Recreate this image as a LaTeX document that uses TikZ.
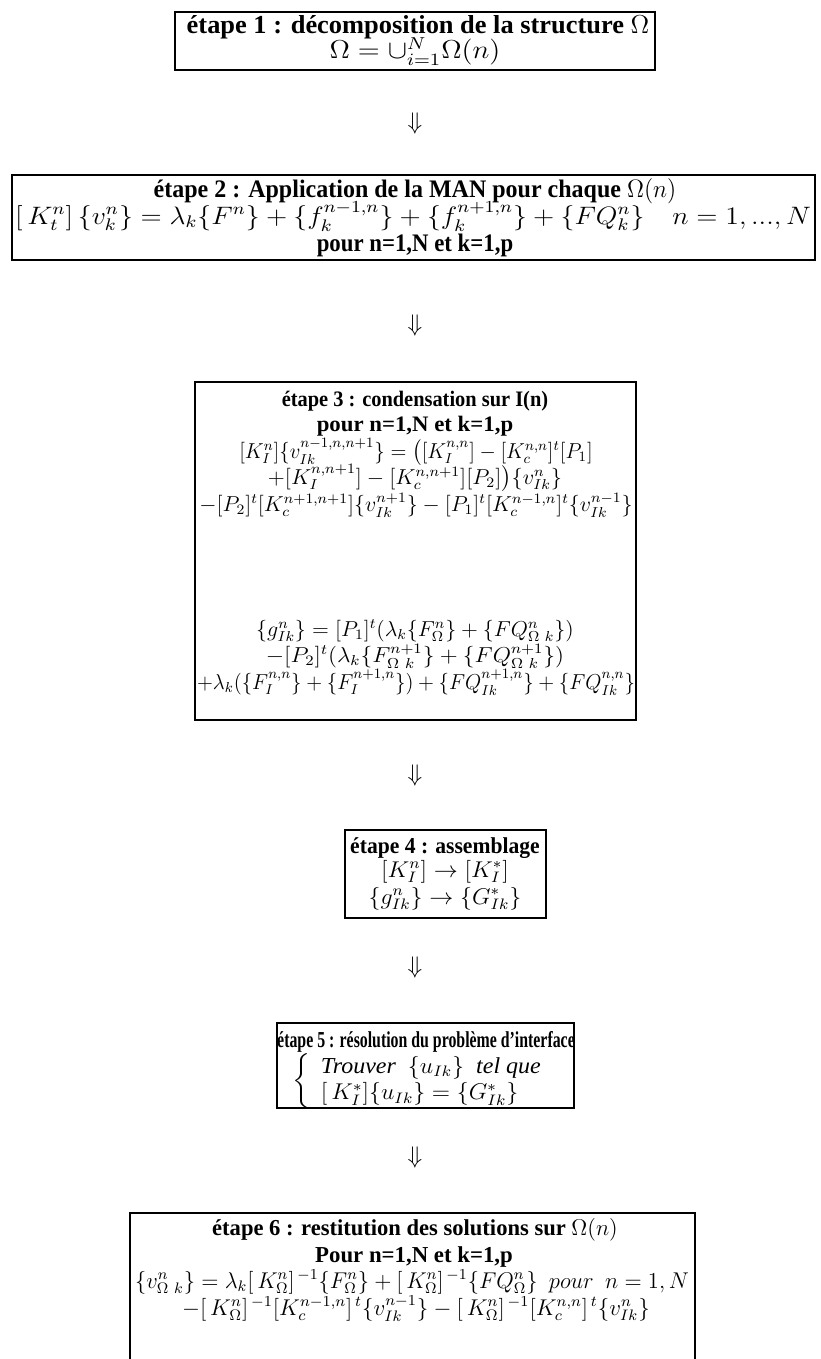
\documentclass[tikz,border=0pt]{standalone}
\usepackage{amsmath}
\usepackage{graphicx}
\usepackage{fontspec}
\setmainfont{Liberation Serif}
\usetikzlibrary{fit}
\newcommand{\lnsc}[3]{\scalebox{#1}[#2]{#3}}
\begin{document}
\begin{tikzpicture}[x=0.5pt,y=-0.5pt,
  stepbox/.style={draw, line width=1pt, inner sep=0pt},
  ln/.style={anchor=base, inner sep=0pt, font=\fontsize{12}{14}\selectfont},
  darrow/.style={inner sep=0pt, font=\fontsize{12}{14}\selectfont}]
\useasboundingbox (0,0) rectangle (820,1359);
% box 1
\coordinate (b1a) at (175,12); \coordinate (b1b) at (655,70);
\node[stepbox, fit=(b1a)(b1b)] (b1) {};
\node[ln] (t1) at (418,34) {\lnsc{1.10}{1.08}{\textbf{étape 1 : décomposition de la structure} $\Omega$}};
\node[ln] (f1) at (415,59) {\lnsc{1.2}{1.08}{$\Omega=\cup_{i=1}^{N}\Omega(n)$}};
\node[darrow] (a1) at (415,123) {$\Downarrow$};
% box 2
\coordinate (b2a) at (12,175); \coordinate (b2b) at (815,260);
\node[stepbox, fit=(b2a)(b2b)] (b2) {};
\node[ln] (t2) at (415,197) {\lnsc{1.0}{1.05}{\textbf{étape 2 : Application de la MAN pour chaque} $\Omega(n)$}};
\node[ln] (f2) at (413,224) {\lnsc{1.16}{1.05}{$[\,K_t^n]\,\{v_k^n\}=\lambda_k\{F^n\}+\{f_k^{n-1,n}\}+\{f_k^{n+1,n}\}+\{FQ_k^n\}\quad n=1,...,N$}};
\node[ln] (p2) at (415,251) {\lnsc{0.95}{1.05}{\textbf{pour n=1,N et k=1,p}}};
\node[darrow] (a2) at (415,325) {$\Downarrow$};
% box 3
\coordinate (b3a) at (195,382); \coordinate (b3b) at (636,720);
\node[stepbox, fit=(b3a)(b3b)] (b3) {};
\node[ln] (t3) at (415,406) {\lnsc{0.85}{0.92}{\textbf{étape 3 : condensation sur I(n)}}};
\node[ln] (p3) at (415,431) {\lnsc{0.95}{0.92}{\textbf{pour n=1,N et k=1,p}}};
\node[ln] (f3a) at (416,458) {\lnsc{0.87}{0.9}{$[K_I^n]\{v_{Ik}^{n-1,n,n+1}\}=\big([K_I^{n,n}]-[K_c^{n,n}]^t[P_1]$}};
\node[ln] (f3b) at (415,484) {\lnsc{0.93}{0.9}{$+[K_I^{n,n+1}]-[K_c^{n,n+1}][P_2]\big)\{v_{Ik}^n\}$}};
\node[ln] (f3c) at (416,511) {\lnsc{0.92}{0.9}{$-[P_2]^t[K_c^{n+1,n+1}]\{v_{Ik}^{n+1}\}-[P_1]^t[K_c^{n-1,n}]^t\{v_{Ik}^{n-1}\}$}};
\node[ln] (g3a) at (415,636) {\lnsc{0.92}{0.9}{$\{g_{Ik}^n\}=[P_1]^t(\lambda_k\{F_\Omega^n\}+\{FQ_{\Omega\ k}^n\})$}};
\node[ln] (g3b) at (415,662) {\lnsc{0.98}{0.9}{$-[P_2]^t(\lambda_k\{F_{\Omega\ k}^{n+1}\}+\{FQ_{\Omega\ k}^{n+1}\})$}};
\node[ln] (g3c) at (416,689) {\lnsc{0.87}{0.9}{$+\lambda_k(\{F_I^{n,n}\}+\{F_I^{n+1,n}\})+\{FQ_{Ik}^{n+1,n}\}+\{FQ_{Ik}^{n,n}\}$}};
\node[darrow] (a3) at (415,775) {$\Downarrow$};
% box 4
\coordinate (b4a) at (345,830); \coordinate (b4b) at (546,918);
\node[stepbox, fit=(b4a)(b4b)] (b4) {};
\node[ln] (t4) at (445,853) {\lnsc{0.9}{0.95}{\textbf{étape 4 : assemblage}}};
\node[ln] (f4a) at (445,877) {\lnsc{1.0}{0.95}{$[K_I^n]\rightarrow[K_I^*]$}};
\node[ln] (f4b) at (445,904) {\lnsc{1.0}{0.95}{$\{g_{Ik}^n\}\rightarrow\{G_{Ik}^*\}$}};
\node[darrow] (a4) at (415,967) {$\Downarrow$};
% box 5
\coordinate (b5a) at (277,1023); \coordinate (b5b) at (574,1108);
\node[stepbox, fit=(b5a)(b5b)] (b5) {};
\node[ln] (t5) at (426,1047) {\lnsc{0.66}{0.95}{\textbf{étape 5 : résolution du problème d’interface}}};
\node[anchor=center, inner sep=0pt, font=\fontsize{12}{14}\selectfont] (f5) at (423,1081)
  {\lnsc{1.0}{0.95}{$\left\{\begin{array}{l}\textit{Trouver}\ \ \{u_{Ik}\}\ \ \textit{tel que}\\ {[\,K_I^*]}\{u_{Ik}\}=\{G_{Ik}^*\}\end{array}\right.$}};
\node[darrow] (a5) at (415,1157) {$\Downarrow$};
% box 6
\coordinate (b6a) at (130,1213); \coordinate (b6b) at (695,1375);
\node[stepbox, fit=(b6a)(b6b)] (b6) {};
\node[ln] (t6) at (415,1235) {\lnsc{0.94}{0.95}{\textbf{étape 6 : restitution des solutions sur} $\Omega(n)$}};
\node[ln] (p6) at (414,1262) {\lnsc{0.95}{0.95}{\textbf{Pour n=1,N et k=1,p}}};
\node[ln] (f6a) at (412,1288) {\lnsc{0.94}{0.95}{$\{v_{\Omega\ k}^n\}=\lambda_k[\,K_\Omega^n]^{\,-1}\{F_\Omega^n\}+[\,K_\Omega^n]^{\,-1}\{FQ_\Omega^n\}\ \ pour\ \ n=1,N$}};
\node[ln] (f6b) at (416,1315) {\lnsc{0.96}{0.95}{$-[\,K_\Omega^n]^{\,-1}[K_c^{n-1,n}]^{\,t}\{v_{Ik}^{n-1}\}-[\,K_\Omega^n]^{\,-1}[K_c^{n,n}]^{\,t}\{v_{Ik}^n\}$}};
\end{tikzpicture}
\end{document}
